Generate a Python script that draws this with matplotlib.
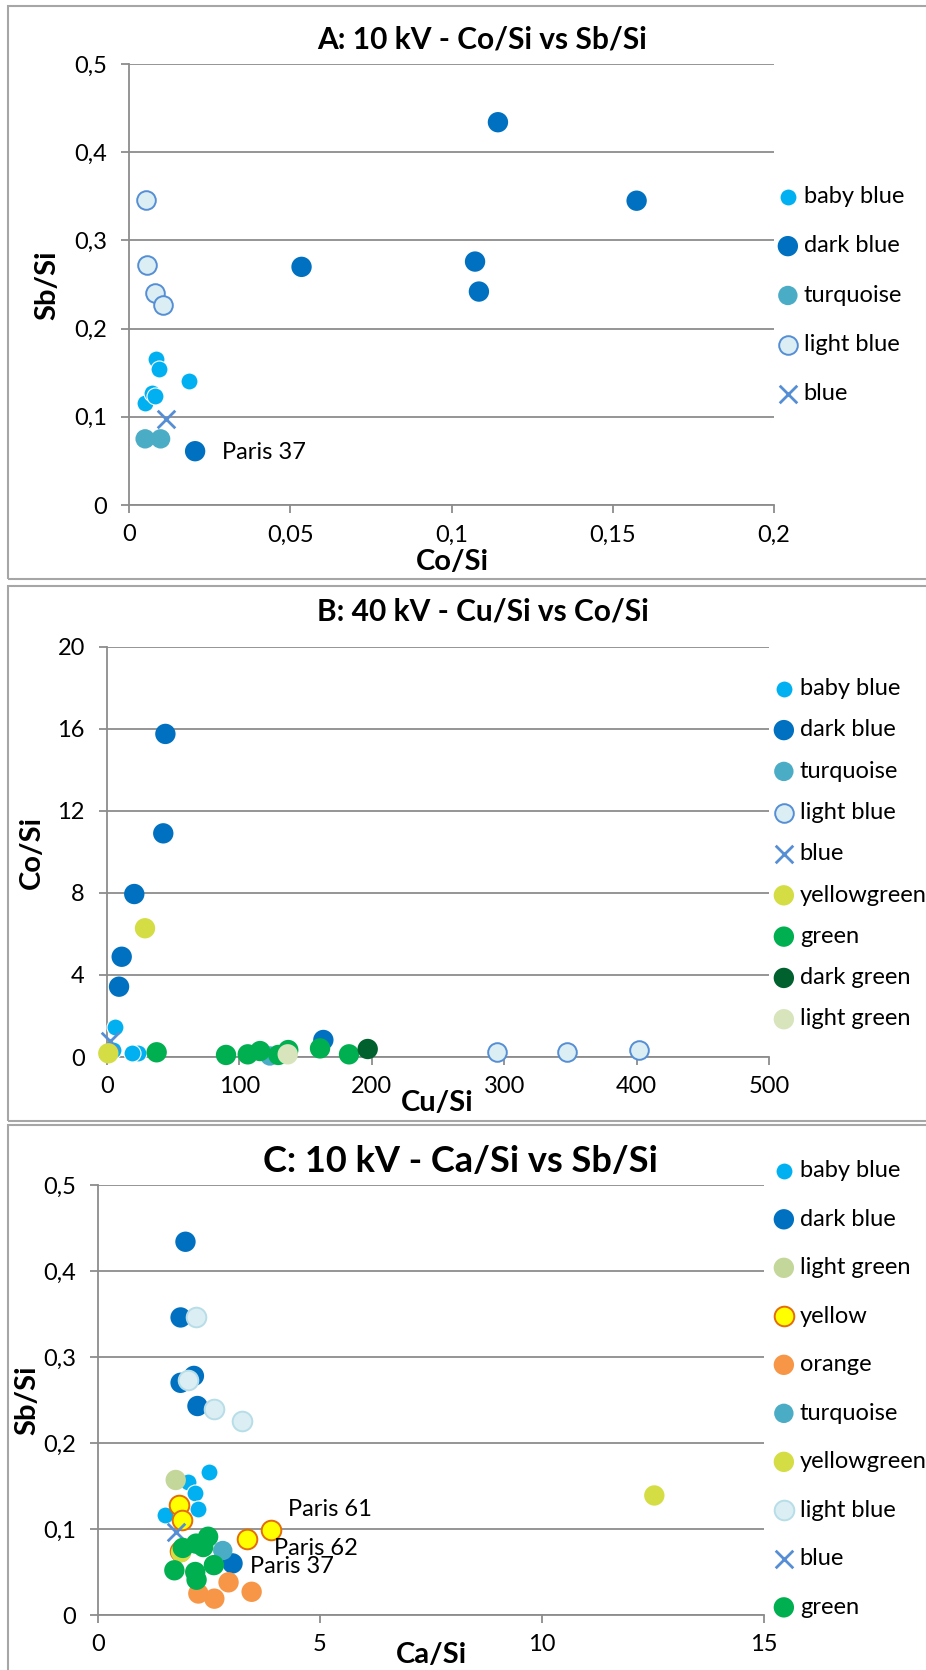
import matplotlib
matplotlib.use("Agg")
import matplotlib.pyplot as plt
from matplotlib.patches import Rectangle
from matplotlib.ticker import FuncFormatter

# =================================================
# --------------------- DATA ----------------------
# =================================================

# Panel A : 10 kV, Co/Si (x) vs Sb/Si (y)
A_BABY_BLUE_CO = [0.0050, 0.0070, 0.0081, 0.0083, 0.0094, 0.0187]
A_BABY_BLUE_SB = [0.116, 0.127, 0.124, 0.166, 0.154, 0.141]
A_DARK_BLUE_CO = [0.1144, 0.1574, 0.1073, 0.1085, 0.0535, 0.0205]
A_DARK_BLUE_SB = [0.434, 0.345, 0.276, 0.242, 0.270, 0.061]
A_TURQUOISE_CO = [0.0050, 0.0098]
A_TURQUOISE_SB = [0.075, 0.075]
A_LIGHT_BLUE_CO = [0.0053, 0.0055, 0.0081, 0.0104]
A_LIGHT_BLUE_SB = [0.346, 0.272, 0.240, 0.227]
A_BLUE_CO = [0.0115]
A_BLUE_SB = [0.097]

# Panel B : 40 kV, Cu/Si (x) vs Co/Si (y)
B_BABY_BLUE_CU = [6.0, 4.8, 23.7, 18.7]
B_BABY_BLUE_CO = [1.48, 0.34, 0.18, 0.18]
B_DARK_BLUE_CU = [44.1, 42.5, 20.6, 11.1, 9.1, 163.4]
B_DARK_BLUE_CO = [15.76, 10.91, 7.95, 4.89, 3.43, 0.83]
B_TURQUOISE_CU = [123.0]
B_TURQUOISE_CO = [0.05]
B_LIGHT_BLUE_CU = [294.8, 347.4, 401.9]
B_LIGHT_BLUE_CO = [0.22, 0.25, 0.32]
B_BLUE_CU = [2.0]
B_BLUE_CO = [0.8]
B_YELLOWGREEN_CU = [28.7, 1.0]
B_YELLOWGREEN_CO = [6.28, 0.18]
B_GREEN_CU = [37.5, 89.9, 106.3, 115.6, 129.4, 136.9, 160.9, 182.8]
B_GREEN_CO = [0.23, 0.10, 0.13, 0.29, 0.10, 0.34, 0.42, 0.13]
B_DARK_GREEN_CU = [196.9]
B_DARK_GREEN_CO = [0.39]
B_LIGHT_GREEN_CU = [136.5]
B_LIGHT_GREEN_CO = [0.13]

# Panel C : 10 kV, Ca/Si (x) vs Sb/Si (y)
C_BABY_BLUE_CA = [2.51, 2.02, 2.19, 2.26, 1.51]
C_BABY_BLUE_SB = [0.166, 0.155, 0.142, 0.123, 0.116]
C_DARK_BLUE_CA = [1.97, 1.86, 2.16, 1.86, 2.24, 3.03]
C_DARK_BLUE_SB = [0.434, 0.346, 0.278, 0.270, 0.243, 0.060]
C_LIGHT_GREEN_CA = [1.75]
C_LIGHT_GREEN_SB = [0.157]
C_YELLOW_CA = [1.83, 1.90, 3.35, 3.90, 1.85]
C_YELLOW_SB = [0.128, 0.110, 0.088, 0.099, 0.075]
C_ORANGE_CA = [2.94, 3.46, 2.26, 2.62]
C_ORANGE_SB = [0.038, 0.027, 0.025, 0.019]
C_TURQUOISE_CA = [2.81]
C_TURQUOISE_SB = [0.075]
C_YELLOWGREEN_CA = [12.53, 1.87]
C_YELLOWGREEN_SB = [0.139, 0.073]
C_LIGHT_BLUE_CA = [2.21, 2.03, 2.61, 3.24]
C_LIGHT_BLUE_SB = [0.346, 0.273, 0.240, 0.226]
C_BLUE_CA = [1.76]
C_BLUE_SB = [0.097]
C_GREEN_CA = [1.91, 2.21, 2.48, 2.37, 2.61, 1.72, 2.19, 2.22]
C_GREEN_SB = [0.078, 0.083, 0.091, 0.079, 0.058, 0.052, 0.050, 0.041]

# labels written next to single points
A_NOTES = [("Paris 37", 0.0288, 0.060)]
C_NOTES = [("Paris 61", 4.27, 0.123), ("Paris 62", 3.97, 0.0775), ("Paris 37", 3.42, 0.056)]

# =================================================
# -------------------- STYLES ---------------------
# =================================================

W, H = 926, 1670
GRID = "#8C8C8C"
FONT = ["Lato", "DejaVu Sans"]
TICK_FS = 17
LEG_FS = 17
LABEL_FS = 21

STYLE = {
    "baby blue": dict(marker="o", s=150, c="#00B0F0", edgecolors="white", linewidths=0.8),
    "dark blue": dict(marker="o", s=215, c="#0070C0", edgecolors="none"),
    "turquoise": dict(marker="o", s=195, c="#4BACC6", edgecolors="none"),
    "light blue": dict(marker="o", s=180, c="#DAEEF3", edgecolors="#558ED5", linewidths=1.4),
    "light blue C": dict(marker="o", s=200, c="#DAEEF3", edgecolors="#B7DEE8", linewidths=1.4),
    "blue": dict(marker="x", s=160, c="#558ED5", linewidths=2.0),
    "yellowgreen": dict(marker="o", s=215, c="#D4DE44", edgecolors="none"),
    "green": dict(marker="o", s=215, c="#00B050", edgecolors="none"),
    "dark green": dict(marker="o", s=215, c="#00612E", edgecolors="none"),
    "light green": dict(marker="o", s=215, c="#D8E4BC", edgecolors="none"),
    "light green C": dict(marker="o", s=215, c="#C4D79B", edgecolors="none"),
    "yellow": dict(marker="o", s=200, c="#FFFF00", edgecolors="#E46C0A", linewidths=1.4),
    "orange": dict(marker="o", s=215, c="#F79646", edgecolors="none"),
}


def fx(px):
    return px / W


def fy(py):
    return 1 - py / H


def comma(v, _):
    return f"{v:g}".replace(".", ",")


def make_axes(fig, left, top, right, bottom):
    ax = fig.add_axes([fx(left), fy(bottom), fx(right - left), (bottom - top) / H])
    for side in ["top", "right"]:
        ax.spines[side].set_visible(False)
    for side in ["left", "bottom"]:
        ax.spines[side].set_color(GRID)
        ax.spines[side].set_linewidth(1.3)
    ax.yaxis.grid(True, color=GRID, linewidth=1.3)
    ax.set_axisbelow(True)
    ax.tick_params(axis="both", direction="out", length=6, width=1.3, color=GRID,
                   labelsize=TICK_FS)
    ax.tick_params(axis="y", pad=10)
    ax.tick_params(axis="x", pad=8)
    ax.xaxis.set_major_formatter(FuncFormatter(comma))
    ax.yaxis.set_major_formatter(FuncFormatter(comma))
    return ax


def draw_series(ax, series):
    for name, style, xs, ys in series:
        ax.scatter(xs, ys, label=name, clip_on=False, zorder=3, **STYLE[style])


def add_legend(ax, fig, x_left, y_top, spacing):
    ax.legend(loc="upper left", bbox_to_anchor=(fx(x_left), fy(y_top)),
              bbox_transform=fig.transFigure, frameon=False, fontsize=LEG_FS,
              borderpad=0, borderaxespad=0, handlelength=0.75, handletextpad=0.3,
              labelspacing=spacing, scatterpoints=1)


def frame(fig, top, bottom):
    fig.patches.append(Rectangle((fx(8), fy(bottom)), 1.2, (bottom - top) / H,
                                 transform=fig.transFigure, fill=False,
                                 edgecolor="#A6A6A6", linewidth=1.5, clip_on=False))


def titles(fig, title, title_xy, title_fs, xlabel, xlabel_xy, ylabel, ylabel_xy):
    fig.text(fx(title_xy[0]), fy(title_xy[1]), title, fontsize=title_fs, fontweight="bold",
             ha="center", va="center")
    fig.text(fx(xlabel_xy[0]), fy(xlabel_xy[1]), xlabel, fontsize=LABEL_FS, fontweight="bold",
             ha="center", va="center")
    fig.text(fx(ylabel_xy[0]), fy(ylabel_xy[1]), ylabel, fontsize=LABEL_FS, fontweight="bold",
             ha="center", va="center", rotation=90)


# =================================================
# -------------------- PANELS ---------------------
# =================================================

def panel_a(fig):
    ax = make_axes(fig, 129, 64, 774, 505)
    draw_series(ax, [
        ("baby blue", "baby blue", A_BABY_BLUE_CO, A_BABY_BLUE_SB),
        ("dark blue", "dark blue", A_DARK_BLUE_CO, A_DARK_BLUE_SB),
        ("turquoise", "turquoise", A_TURQUOISE_CO, A_TURQUOISE_SB),
        ("light blue", "light blue", A_LIGHT_BLUE_CO, A_LIGHT_BLUE_SB),
        ("blue", "blue", A_BLUE_CO, A_BLUE_SB),
    ])
    for txt, x, y in A_NOTES:
        ax.text(x, y, txt, fontsize=LEG_FS, va="center", ha="left")
    ax.set_xlim(0, 0.2)
    ax.set_ylim(0, 0.5)
    ax.set_xticks([0, 0.05, 0.1, 0.15, 0.2])
    ax.set_yticks([0, 0.1, 0.2, 0.3, 0.4, 0.5])
    add_legend(ax, fig, 779, 186, 1.2)
    titles(fig, "A: 10 kV - Co/Si vs Sb/Si", (482, 39), 21.5,
           "Co/Si", (452, 562), "Sb/Si", (47, 285))


def panel_b(fig):
    ax = make_axes(fig, 107, 647, 769, 1057)
    draw_series(ax, [
        ("baby blue", "baby blue", B_BABY_BLUE_CU, B_BABY_BLUE_CO),
        ("dark blue", "dark blue", B_DARK_BLUE_CU, B_DARK_BLUE_CO),
        ("turquoise", "turquoise", B_TURQUOISE_CU, B_TURQUOISE_CO),
        ("light blue", "light blue", B_LIGHT_BLUE_CU, B_LIGHT_BLUE_CO),
        ("blue", "blue", B_BLUE_CU, B_BLUE_CO),
        ("yellowgreen", "yellowgreen", B_YELLOWGREEN_CU, B_YELLOWGREEN_CO),
        ("green", "green", B_GREEN_CU, B_GREEN_CO),
        ("dark green", "dark green", B_DARK_GREEN_CU, B_DARK_GREEN_CO),
        ("light green", "light green", B_LIGHT_GREEN_CU, B_LIGHT_GREEN_CO),
    ])
    ax.set_xlim(0, 500)
    ax.set_ylim(0, 20)
    ax.set_xticks([0, 100, 200, 300, 400, 500])
    ax.set_yticks([0, 4, 8, 12, 16, 20])
    add_legend(ax, fig, 775, 678, 0.86)
    titles(fig, "B: 40 kV - Cu/Si vs Co/Si", (483, 611), 21.5,
           "Cu/Si", (437, 1103), "Co/Si", (32, 853))


def panel_c(fig):
    ax = make_axes(fig, 98, 1185, 764, 1615)
    draw_series(ax, [
        ("baby blue", "baby blue", C_BABY_BLUE_CA, C_BABY_BLUE_SB),
        ("dark blue", "dark blue", C_DARK_BLUE_CA, C_DARK_BLUE_SB),
        ("light green", "light green C", C_LIGHT_GREEN_CA, C_LIGHT_GREEN_SB),
        ("yellow", "yellow", C_YELLOW_CA, C_YELLOW_SB),
        ("orange", "orange", C_ORANGE_CA, C_ORANGE_SB),
        ("turquoise", "turquoise", C_TURQUOISE_CA, C_TURQUOISE_SB),
        ("yellowgreen", "yellowgreen", C_YELLOWGREEN_CA, C_YELLOWGREEN_SB),
        ("light blue", "light blue C", C_LIGHT_BLUE_CA, C_LIGHT_BLUE_SB),
        ("blue", "blue", C_BLUE_CA, C_BLUE_SB),
        ("green", "green", C_GREEN_CA, C_GREEN_SB),
    ])
    for txt, x, y in C_NOTES:
        ax.text(x, y, txt, fontsize=LEG_FS, va="center", ha="left")
    ax.set_xlim(0, 15)
    ax.set_ylim(0, 0.5)
    ax.set_xticks([0, 5, 10, 15])
    ax.set_yticks([0, 0.1, 0.2, 0.3, 0.4, 0.5])
    add_legend(ax, fig, 775, 1160, 1.165)
    titles(fig, "C: 10 kV - Ca/Si vs Sb/Si", (460, 1161), 26,
           "Ca/Si", (431, 1655), "Sb/Si", (27, 1400))


# =================================================
# --------------------- MAIN ----------------------
# =================================================

def main():
    plt.rcParams["font.family"] = FONT
    fig = plt.figure(figsize=(W / 100, H / 100), dpi=100)
    fig.patch.set_facecolor("white")

    frame(fig, 6, 579)
    frame(fig, 586, 1121)
    frame(fig, 1125, 1700)

    panel_a(fig)
    panel_b(fig)
    panel_c(fig)

    fig.savefig("out.png", dpi=100)


if __name__ == "__main__":
    main()
